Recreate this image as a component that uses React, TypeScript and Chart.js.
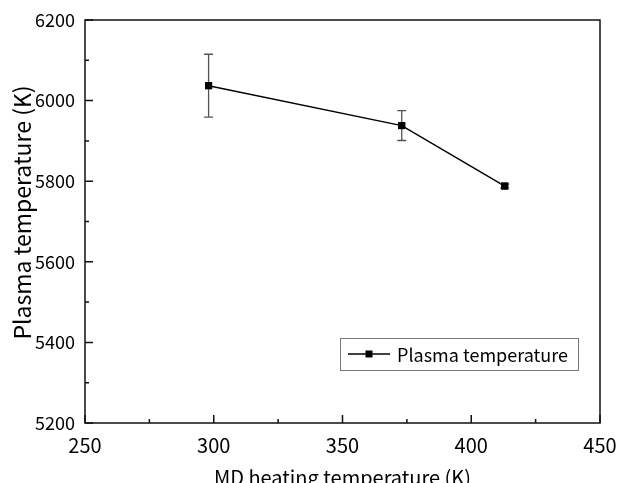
import React, { useEffect, useRef } from "react";
import { Chart, registerables } from "chart.js";

Chart.register(...registerables);

const seriesLabel = "Plasma temperature";
const xTitle = "MD heating temperature (K)";
const yTitle = "Plasma temperature (K)";
const heatingTemps = [298, 373, 413];
const plasmaTemps = [6037, 5938, 5788];
const plasmaErrors = [78, 37, 5];
const xMajorTicks = [250, 300, 350, 400, 450];
const xMinorTicks = [275, 325, 375, 425];
const yMajorTicks = [5200, 5400, 5600, 5800, 6000, 6200];
const yMinorTicks = [5300, 5500, 5700, 5900, 6100];

const FONT = '"Noto Sans CJK JP", "Noto Sans", sans-serif';

const framePlugin = {
  id: "frameAndTicks",
  afterDraw(chart: any) {
    const { ctx, chartArea: a, scales } = chart;
    const xs = scales.x;
    const ys = scales.y;
    ctx.save();
    // error bars
    ctx.strokeStyle = "#555";
    ctx.lineWidth = 1.3;
    heatingTemps.forEach((t, i) => {
      const px = xs.getPixelForValue(t);
      const top = ys.getPixelForValue(plasmaTemps[i] + plasmaErrors[i]);
      const bot = ys.getPixelForValue(plasmaTemps[i] - plasmaErrors[i]);
      ctx.beginPath();
      ctx.moveTo(px, top);
      ctx.lineTo(px, bot);
      ctx.moveTo(px - 4.5, top);
      ctx.lineTo(px + 4.5, top);
      ctx.moveTo(px - 4.5, bot);
      ctx.lineTo(px + 4.5, bot);
      ctx.stroke();
    });
    // redraw markers on top of error bars
    ctx.fillStyle = "#000";
    heatingTemps.forEach((t, i) => {
      const px = xs.getPixelForValue(t);
      const py = ys.getPixelForValue(plasmaTemps[i]);
      ctx.fillRect(px - 3.5, py - 3.5, 7, 7);
    });
    // frame
    ctx.strokeStyle = "#111";
    ctx.lineWidth = 1.5;
    ctx.strokeRect(a.left, a.top, a.right - a.left, a.bottom - a.top);
    // ticks inward
    ctx.beginPath();
    xMajorTicks.forEach((v) => {
      const p = xs.getPixelForValue(v);
      ctx.moveTo(p, a.bottom);
      ctx.lineTo(p, a.bottom - 8);
    });
    xMinorTicks.forEach((v) => {
      const p = xs.getPixelForValue(v);
      ctx.moveTo(p, a.bottom);
      ctx.lineTo(p, a.bottom - 4);
    });
    yMajorTicks.forEach((v) => {
      const p = ys.getPixelForValue(v);
      ctx.moveTo(a.left, p);
      ctx.lineTo(a.left + 8, p);
    });
    yMinorTicks.forEach((v) => {
      const p = ys.getPixelForValue(v);
      ctx.moveTo(a.left, p);
      ctx.lineTo(a.left + 4, p);
    });
    ctx.stroke();
    // axis titles
    ctx.fillStyle = "#000";
    ctx.font = `20px ${FONT}`;
    ctx.textAlign = "center";
    ctx.textBaseline = "alphabetic";
    ctx.fillText(xTitle, (a.left + a.right) / 2, 485);
    ctx.save();
    ctx.translate(31, (a.top + a.bottom) / 2 - 9);
    ctx.rotate(-Math.PI / 2);
    ctx.font = `23px ${FONT}`;
    ctx.fillText(yTitle, 0, 0);
    ctx.restore();
    // legend
    const lx = 340, ly = 338, lw = 238, lh = 32;
    ctx.strokeStyle = "#777";
    ctx.lineWidth = 1;
    ctx.fillStyle = "#fff";
    ctx.fillRect(lx, ly, lw, lh);
    ctx.strokeRect(lx + 0.5, ly + 0.5, lw, lh);
    const cy = ly + 16;
    ctx.strokeStyle = "#000";
    ctx.lineWidth = 1.5;
    ctx.beginPath();
    ctx.moveTo(lx + 8, cy);
    ctx.lineTo(lx + 50, cy);
    ctx.stroke();
    ctx.fillStyle = "#000";
    ctx.fillRect(lx + 29 - 3.5, cy - 3.5, 7, 7);
    ctx.font = `18px ${FONT}`;
    ctx.textAlign = "left";
    ctx.textBaseline = "middle";
    ctx.fillText(seriesLabel, lx + 57, cy + 1);
    ctx.restore();
  },
};

export default function App() {
  const ref = useRef<HTMLCanvasElement | null>(null);
  useEffect(() => {
    if (!ref.current) return;
    const chart = new Chart(ref.current, {
      type: "line",
      data: {
        datasets: [
          {
            label: seriesLabel,
            data: heatingTemps.map((t, i) => ({ x: t, y: plasmaTemps[i] })),
            borderColor: "#000",
            backgroundColor: "#000",
            borderWidth: 1.5,
            pointStyle: "rect",
            pointRadius: 5,
            pointBorderWidth: 0,
            fill: false,
          },
        ],
      },
      options: {
        animation: false,
        responsive: false,
        layout: { padding: { top: 20, right: 17, left: 0, bottom: 0 } },
        plugins: { legend: { display: false }, tooltip: { enabled: false } },
        scales: {
          x: {
            type: "linear",
            min: 250,
            max: 450,
            afterFit: (s: any) => {
              s.height = 60;
              s.paddingLeft = 0;
              s.paddingRight = 0;
            },
            ticks: {
              stepSize: 50,
              color: "#000",
              font: { family: FONT, size: 20 },
              padding: 8,
              maxRotation: 0,
              callback: (v: any) => String(v),
            },
            grid: { display: false, drawTicks: true, tickLength: 2 },
            border: { display: false },
          },
          y: {
            min: 5200,
            max: 6200,
            afterFit: (s: any) => {
              s.width = 85;
              s.paddingTop = 0;
              s.paddingBottom = 0;
            },
            ticks: {
              stepSize: 200,
              color: "#000",
              font: { family: FONT, size: 18 },
              padding: 8,
              callback: (v: any) => String(v),
            },
            grid: { display: false, drawTicks: true, tickLength: 2 },
            border: { display: false },
          },
        },
      },
      plugins: [framePlugin],
    });
    return () => chart.destroy();
  }, []);
  return (
    <div style={{ position: "fixed", left: 0, top: 0, width: 617, height: 483, background: "#fff" }}>
      <canvas ref={ref} width={617} height={483} />
    </div>
  );
}
